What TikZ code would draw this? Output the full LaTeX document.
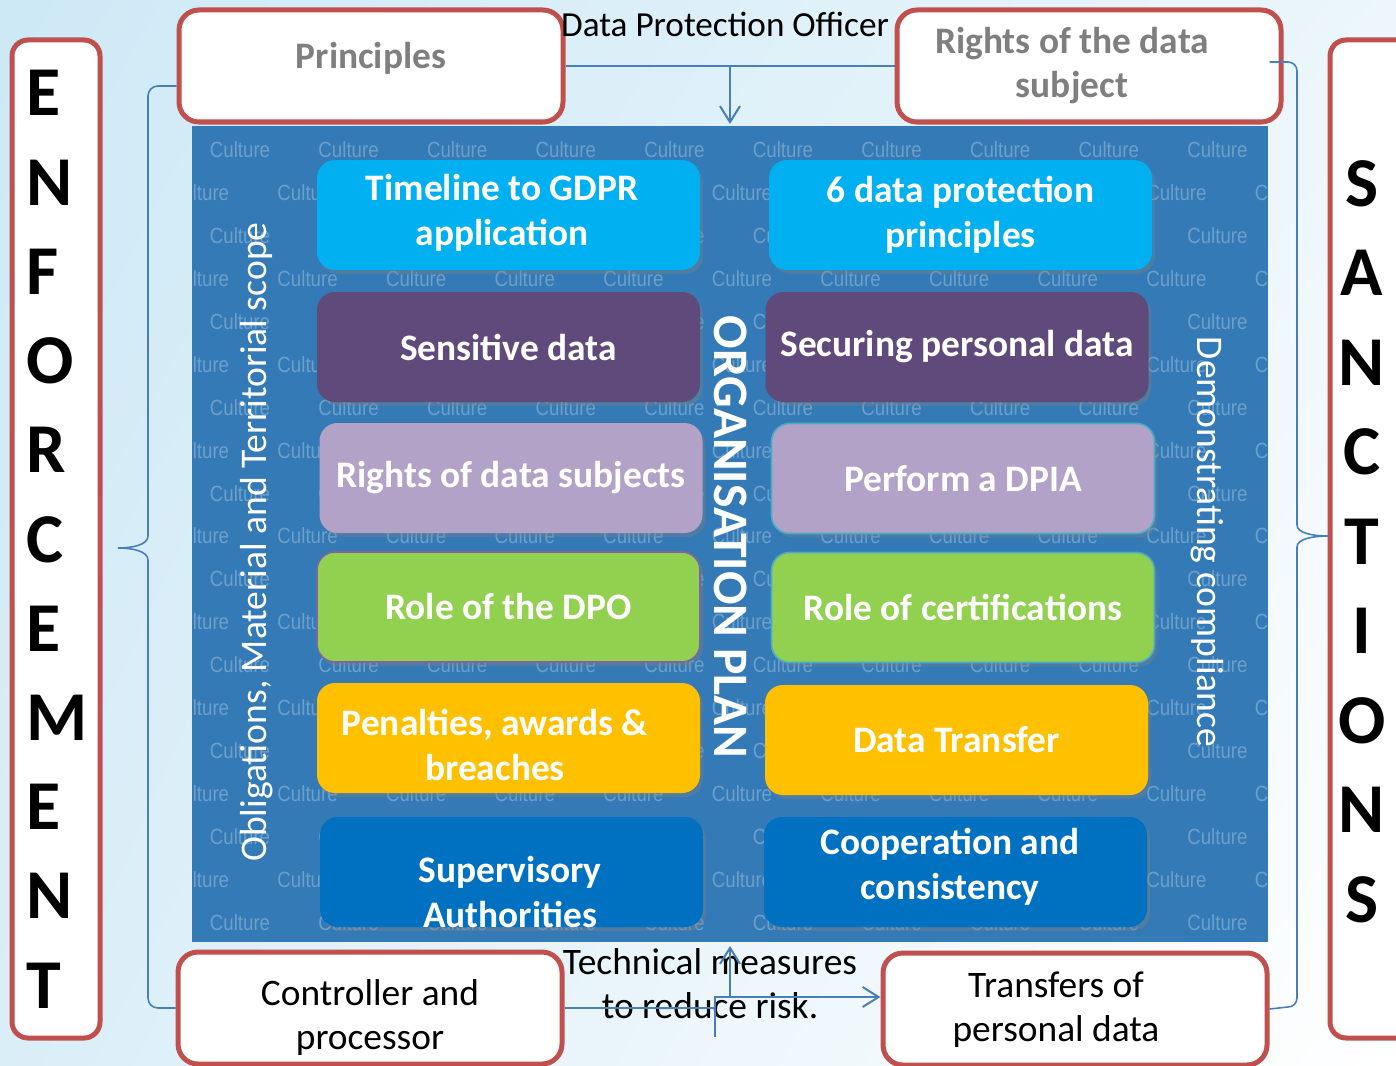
\documentclass[tikz,border=0pt]{standalone}
\usepackage{fontspec}
\setmainfont{Carlito}
\newfontfamily\cultfont[FakeStretch=0.85]{Liberation Sans}
\usetikzlibrary{arrows.meta,shadows,shadings}
\definecolor{panelblue}{RGB}{52,122,182}
\definecolor{redb}{RGB}{192,80,77}
\definecolor{graytxt}{RGB}{127,127,127}
\definecolor{connblue}{RGB}{74,126,187}
\definecolor{cyanb}{RGB}{0,176,240}
\definecolor{purpb}{RGB}{96,74,123}
\definecolor{lavb}{RGB}{179,162,199}
\definecolor{greenb}{RGB}{146,208,80}
\definecolor{orangeb}{RGB}{255,192,0}
\definecolor{darkb}{RGB}{0,112,192}
\definecolor{tealb}{RGB}{75,172,198}
\definecolor{purpbord}{RGB}{128,100,162}
\definecolor{bgA}{RGB}{205,233,246}
\definecolor{bgB}{RGB}{236,246,251}
\definecolor{bgC}{RGB}{218,238,248}
\begin{document}
\begin{tikzpicture}[x=0.5pt,y=-0.5pt,
 redbox/.style={draw=redb, line width=2.5pt, fill=white, rounded corners=10pt, minimum width=192pt, minimum height=56pt, inner sep=0pt},
 tallbox/.style={draw=redb, line width=2.5pt, fill=white, rounded corners=8pt, inner sep=0pt},
 gtext/.style={text=graytxt, font=\fontsize{18.7}{22}\selectfont\bfseries, align=center, inner sep=0pt},
 btext/.style={text=black, font=\fontsize{18.7}{22}\selectfont, align=center, inner sep=0pt},
 ibox/.style={rounded corners=9pt, minimum width=191.5pt, minimum height=55pt, inner sep=0pt, text=white, font=\fontsize{18.7}{22.5}\selectfont\bfseries, align=center, drop shadow={shadow xshift=1.5pt, shadow yshift=-2pt, opacity=0.35}},
 wtext/.style={text=white, font=\fontsize{18.7}{22.5}\selectfont\bfseries, align=center, inner sep=0pt},
 conn/.style={draw=connblue, line width=1pt},
 brace/.style={draw=connblue, line width=0.8pt},
 tip/.style={-{Straight Barb[length=8pt,width=10pt]}},
 big/.style={font=\fontsize{35}{40}\selectfont\bfseries, text=black, inner sep=0pt},
 cult/.style={font=\cultfont\fontsize{11}{12}\selectfont, text=white, text opacity=0.28, inner sep=0pt},
 side/.style={text=white, font=\fontsize{18.8}{20}\selectfont, inner sep=0pt}
]
\useasboundingbox (0,0) rectangle (1396,1065);
% background
\shade[upper left=bgA, upper right=bgB, lower left=bgC, lower right=white] (0,0) rectangle (1396,1065);
% central panel
\fill[panelblue] (192,126) rectangle (1268,942);
\coordinate (paneltop) at (730,124);
\coordinate (panelbot) at (730,946);
% watermark
\begin{scope}
\clip (192,126) rectangle (1268,942);
\foreach \r in {0,...,18}{
  \pgfmathsetmacro{\yy}{150+42.9*\r}
  \pgfmathsetmacro{\off}{mod(\r,2)==0 ? 240 : 199}
  \foreach \c in {0,...,10}{
    \node[cult] (cu-\r-\c) at ({\off+108.6*\c},\yy) {Culture};
  }
}
\end{scope}
% inner boxes
\node[ibox, fill=cyanb] (b1l) at (508.5,215) {};
\node[wtext] (b1lt) at (502,213) {Timeline to GDPR\\application};
\node[ibox, fill=cyanb] (b1r) at (960.5,215) {6 data protection\\principles};
\node[ibox, fill=purpb] (b2l) at (508.5,347) {Sensitive data};
\node[ibox, fill=purpb] (b2r) at (957,347) {Securing personal data};
\node[ibox, fill=lavb] (b3l) at (511,478) {Rights of data subjects};
\node[ibox, fill=lavb, draw=tealb, line width=0.8pt] (b3r) at (963,478.5) {Perform a DPIA};
\node[ibox, fill=greenb, draw=purpbord, line width=0.8pt] (b4l) at (508.5,607) {Role of the DPO};
\node[ibox, fill=greenb, draw=tealb, line width=0.8pt] (b4r) at (963,607.5) {Role of certifications};
\node[ibox, fill=orangeb] (b5l) at (508.5,738) {};
\node[wtext] (b5lt) at (495,745) {Penalties, awards \&\\breaches};
\node[ibox, fill=orangeb] (b5r) at (956.5,740) {Data Transfer};
\node[ibox, fill=darkb] (b6l) at (511.5,872) {};
\node[wtext] (b6lt) at (510,892) {Supervisory\\Authorities};
\node[ibox, fill=darkb] (b6r) at (955.5,872) {};
\node[wtext] (b6rt) at (950,867) {Cooperation and\\consistency};
% rotated texts
\node[side, rotate=90] (obl) at (257,542) {Obligations, Material and Territorial scope};
\node[side, rotate=-90] (demo) at (1207,542) {Demonstrating compliance};
\node[text=white, font=\fontsize{24.8}{28}\selectfont\bfseries, inner sep=0pt, rotate=-90] (org) at (731,537) {ORGANISATION PLAN};
% side boxes
\node[tallbox, minimum width=44pt, minimum height=499pt] (enfbox) at (56,539) {};
\foreach \l [count=\i from 0] in {E,N,F,O,R,C,E,M,E,N,T}
  \node[big, anchor=base west] (enf-\i) at (26,{116+89.2*\i}) {\l};
\node[tallbox, minimum width=45pt, minimum height=499pt] (sanbox) at (1375,539) {};
\foreach \l [count=\i from 0] in {S,A,N,C,T,I,O,N,S}
  \node[big, anchor=base] (san-\i) at (1362,{206+89.5*\i}) {\l};
% top boxes
\node[redbox] (princ) at (371,66) {};
\node[gtext] (princt) at (371,58) {Principles};
\node[redbox] (rights) at (1089,66) {};
\node[gtext] (rightst) at (1072,66) {Rights of the data\\subject};
\node[btext, font=\fontsize{17.6}{20}\selectfont] (dpo) at (725,24) {Data Protection Officer};
% bottom boxes
\node[redbox] (ctrl) at (370,1008) {};
\node[btext] (ctrlt) at (370,1018) {Controller and\\processor};
\node[redbox] (trans) at (1075,1009) {};
\node[btext] (transt) at (1056,1010) {Transfers of\\personal data};
\node[btext] (tech) at (710,984) {Technical measures\\to reduce risk.};
% connectors
\coordinate (dpoj) at (730,66);
\draw[conn] (princ.east) -- (rights.west);
\draw[conn, tip] (dpoj) -- (paneltop);
\coordinate (tj) at (715,1008);
\coordinate (tlow) at (715,1037);
\coordinate (tmid) at (715,997);
\coordinate (tup) at (730,997);
\draw[conn] (ctrl.east) -- (tj);
\draw[conn, tip] (tlow) -- (tmid) -- (trans.west |- tmid);
\draw[conn, tip] (tup) -- (panelbot);
% braces
\draw[brace] ([yshift=-10pt]princ.west) -- (158,86) to[out=180,in=90] (148,96) -- (148,536)
  .. controls (148,545) and (132,548) .. (118,548)
  .. controls (132,548) and (148,551) .. (148,560) -- (148,998)
  to[out=-90,in=180] (158,1008) -- (ctrl.west);
\draw[brace] ([xshift=-7pt,yshift=2pt]rights.east) -- (1288,62) to[out=0,in=90] (1297,71) -- (1297,525)
  .. controls (1297,533) and (1312,536) .. (1329,536)
  .. controls (1312,536) and (1297,539) .. (1297,547) -- (1297,998)
  to[out=-90,in=0] (1288,1007) -- (trans.east);
\end{tikzpicture}
\end{document}
